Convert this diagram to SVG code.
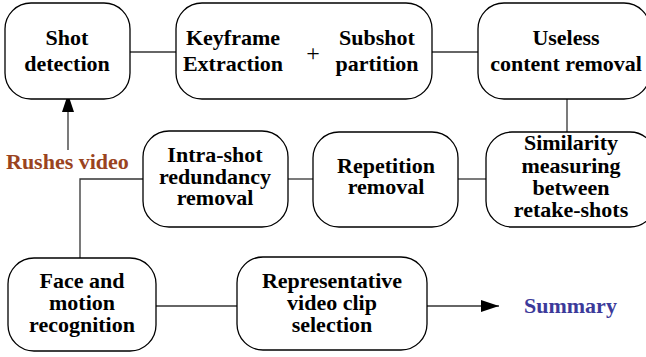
<svg xmlns="http://www.w3.org/2000/svg" width="646" height="357" viewBox="0 0 646 357">
  <style>
    .box { fill: #ffffff; stroke: #000000; stroke-width: 1.3; }
    .wire { fill: none; stroke: #333333; stroke-width: 1.3; }
    text { font-family: "Liberation Serif", serif; font-weight: bold; font-size: 22px; }
    .c { text-anchor: middle; fill: #000000; }
  </style>
  <defs>
    <marker id="arrowBig" viewBox="0 0 18 12" refX="18" refY="6" markerWidth="18" markerHeight="12" markerUnits="userSpaceOnUse" orient="auto">
      <path d="M0,0 L18,6 L0,12 z" fill="#000000"/>
    </marker>
  </defs>

  <g id="connectors">
    <line class="wire" x1="130" y1="52" x2="176" y2="52"/>
    <line class="wire" x1="432" y1="52" x2="478" y2="52"/>
    <line class="wire" x1="567" y1="99" x2="567" y2="132"/>
    <line class="wire" x1="458" y1="179" x2="486" y2="179"/>
    <line class="wire" x1="288" y1="179" x2="313" y2="179"/>
    <polyline class="wire" points="143,179 80,179 80,258"/>
    <line class="wire" x1="156" y1="306" x2="237" y2="306"/>
    <line class="wire" x1="427" y1="306" x2="499" y2="306" marker-end="url(#arrowBig)"/>
    <line class="wire" x1="68" y1="150" x2="68" y2="94" marker-end="url(#arrowBig)"/>
  </g>

  <g id="shot-detection">
    <rect class="box" x="5" y="3" width="125" height="96" rx="26"/>
    <text class="c"><tspan x="67" y="45">Shot</tspan><tspan x="67" y="71">detection</tspan></text>
  </g>

  <g id="keyframe-subshot">
    <rect class="box" x="176" y="3" width="256" height="96" rx="26"/>
    <text class="c"><tspan x="233" y="45">Keyframe</tspan><tspan x="233" y="71">Extraction</tspan></text>
    <text class="c" x="313" y="61" style="font-weight:normal;font-size:24px">+</text>
    <text class="c"><tspan x="377" y="45">Subshot</tspan><tspan x="377" y="71">partition</tspan></text>
  </g>

  <g id="useless-content-removal">
    <rect class="box" x="478" y="3" width="172" height="96" rx="26"/>
    <text class="c"><tspan x="566" y="45">Useless</tspan><tspan x="566" y="71">content removal</tspan></text>
  </g>

  <g id="similarity-measuring">
    <rect class="box" x="486" y="132" width="170" height="95" rx="26"/>
    <text class="c"><tspan x="571" y="150">Similarity</tspan><tspan x="571" y="173">measuring</tspan><tspan x="571" y="195">between</tspan><tspan x="571" y="217">retake-shots</tspan></text>
  </g>

  <g id="repetition-removal">
    <rect class="box" x="313" y="132" width="145" height="95" rx="26"/>
    <text class="c"><tspan x="386" y="173">Repetition</tspan><tspan x="386" y="194">removal</tspan></text>
  </g>

  <g id="intra-shot">
    <rect class="box" x="143" y="131" width="145" height="96" rx="26"/>
    <text class="c"><tspan x="215" y="162">Intra-shot</tspan><tspan x="215" y="184">redundancy</tspan><tspan x="215" y="205">removal</tspan></text>
  </g>

  <g id="rushes-video">
    <text x="6" y="169" fill="#9a4320">Rushes video</text>
  </g>

  <g id="face-motion">
    <rect class="box" x="8" y="258" width="148" height="93" rx="26"/>
    <text class="c"><tspan x="82" y="288">Face and</tspan><tspan x="82" y="310">motion</tspan><tspan x="82" y="332">recognition</tspan></text>
  </g>

  <g id="representative-clip">
    <rect class="box" x="237" y="257" width="190" height="93" rx="26"/>
    <text class="c"><tspan x="332" y="288">Representative</tspan><tspan x="332" y="310">video clip</tspan><tspan x="332" y="332">selection</tspan></text>
  </g>

  <g id="summary">
    <text x="524" y="313" fill="#3c3a9a">Summary</text>
  </g>
</svg>
